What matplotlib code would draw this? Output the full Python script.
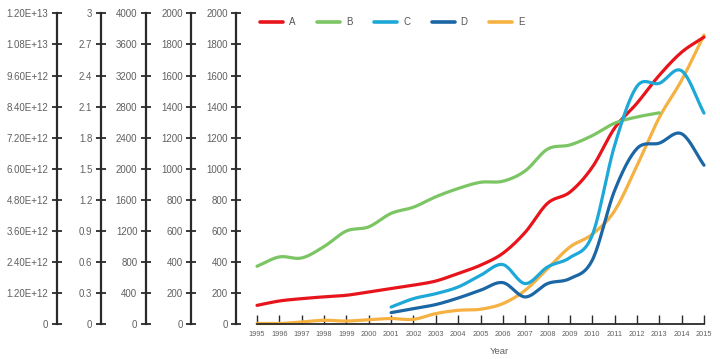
import numpy as np
import matplotlib
matplotlib.use("Agg")
import matplotlib.pyplot as plt

# ---------------- data ----------------
years = list(range(1995, 2016))
years_b = list(range(1995, 2014))
years_cd = list(range(2001, 2016))

# A on 0..1.2E13 axis (trillions)
A = [0.73, 0.90, 0.99, 1.06, 1.12, 1.25, 1.38, 1.51, 1.67, 1.96, 2.28,
     2.74, 3.55, 4.67, 5.10, 6.06, 7.57, 8.53, 9.61, 10.50, 11.08]
# B on 0..3 axis
B = [0.56, 0.65, 0.64, 0.75, 0.90, 0.94, 1.07, 1.13, 1.23, 1.31, 1.37,
     1.38, 1.48, 1.69, 1.73, 1.82, 1.94, 2.00, 2.04]
# C on 0..4000 axis
C = [222, 330, 394, 480, 630, 768, 524, 738, 858, 1146, 2300, 3060, 3100, 3260, 2716]
# D on 0..2000 axis
D = [75, 101, 127, 169, 219, 268, 176, 262, 294, 412, 860, 1130, 1165, 1225, 1023]
# E on 0..2000 axis (main)
E = [5, 5, 15, 26, 21, 30, 37, 32, 69, 90, 97, 133, 219, 358, 497, 579,
     730, 1020, 1330, 1570, 1860]

names = ["A", "B", "C", "D", "E"]
colors = ["#e8141b", "#7cc564", "#1ea8d8", "#1b66a5", "#f5b142"]

ticks_A = [i * 1.2e12 for i in range(11)]
labels_A = ["0"] + ["%.2fE+%02d" % (v / 10 ** int(np.floor(np.log10(v))), int(np.floor(np.log10(v)))) for v in ticks_A[1:]]
ticks_B = [round(i * 0.3, 1) for i in range(11)]
labels_B = ["0"] + [("%g" % v) for v in ticks_B[1:]]
ticks_C = [i * 400 for i in range(11)]
ticks_D = [i * 200 for i in range(11)]


def smooth(x, y, n=20):
    x = np.asarray(x, float)
    y = np.asarray(y, float)
    px = np.concatenate([[2 * x[0] - x[1]], x, [2 * x[-1] - x[-2]]])
    py = np.concatenate([[2 * y[0] - y[1]], y, [2 * y[-1] - y[-2]]])
    xs, ys = [], []
    t = np.linspace(0, 1, n, endpoint=False)
    for i in range(1, len(px) - 2):
        p0, p1, p2, p3 = py[i - 1], py[i], py[i + 1], py[i + 2]
        q0, q1, q2, q3 = px[i - 1], px[i], px[i + 1], px[i + 2]
        for arr, (a0, a1, a2, a3) in ((ys, (p0, p1, p2, p3)), (xs, (q0, q1, q2, q3))):
            arr.extend(0.5 * ((2 * a1) + (-a0 + a2) * t + (2 * a0 - 5 * a1 + 4 * a2 - a3) * t ** 2
                              + (-a0 + 3 * a1 - 3 * a2 + a3) * t ** 3))
    xs.append(x[-1])
    ys.append(y[-1])
    return np.array(xs), np.array(ys)


plt.rcParams['font.family'] = ['Liberation Sans', 'DejaVu Sans']

fig = plt.figure(figsize=(7.2, 3.59), dpi=100)
W, H = 720.0, 359.0
left_px, right_px, bottom_px, top_px = 257, 704, 324.3, 13.3
rect = [left_px / W, 1 - bottom_px / H, (right_px - left_px) / W, (bottom_px - top_px) / H]

spine_col = "#2a2a2a"
lab_col = "#606060"

ax = fig.add_axes(rect)
ax.set_xlim(1995, 2015)
ax.set_ylim(0, 2000)
for s in ["top", "right"]:
    ax.spines[s].set_visible(False)

# y-axis definitions: (ticks, labels, ymax, spine pixel x)
axis_defs = [
    (ticks_A, labels_A, 1.2e13, 56.7),
    (ticks_B, labels_B, 3.0, 100.7),
    (ticks_C, [str(v) for v in ticks_C], 4000, 145.7),
    (ticks_D, [str(v) for v in ticks_D], 2000, 191.0),
]

axes = []
for tk, lb, ymax, sx in axis_defs:
    a = fig.add_axes(rect, sharex=ax)
    a.set_facecolor("none")
    a.set_ylim(0, ymax)
    for s in ["top", "right", "bottom"]:
        a.spines[s].set_visible(False)
    a.spines["left"].set_position(("outward", (left_px - sx) * 0.72))
    a.tick_params(axis="x", which="both", bottom=False, labelbottom=False)
    a.set_yticks(tk)
    a.set_yticklabels(lb)
    axes.append(a)

axes.append(ax)
ax.spines["left"].set_position(("outward", (left_px - 236.0) * 0.72))
ax.set_yticks(ticks_D)
ax.set_yticklabels([str(v) for v in ticks_D])

for a in axes:
    a.spines["left"].set_color(spine_col)
    a.spines["left"].set_linewidth(1.6)
    a.spines["left"].set_bounds(0, a.get_ylim()[1])
    a.tick_params(axis="y", direction="inout", length=7, width=1.3, color=spine_col,
                  labelsize=7, labelcolor=lab_col, pad=2.5)

ax.spines["bottom"].set_color(spine_col)
ax.spines["bottom"].set_linewidth(1.3)
ax.set_xticks(years)
ax.set_xticklabels([str(y) for y in years])
ax.tick_params(axis="x", direction="in", length=6.5, width=1.0, color=spine_col,
               labelsize=5.3, labelcolor=lab_col, pad=4.5)
ax.set_xlabel("Year", fontsize=6.8, color=lab_col)
ax.xaxis.set_label_coords((499 - left_px) / (right_px - left_px), -0.072)

series = [(axes[0], years, [v * 1e12 for v in A]),
          (axes[1], years_b, B),
          (axes[2], years_cd, C),
          (axes[3], years_cd, D),
          (ax, years, E)]

handles = []
for (a, xs, ys), nm, col in zip(series, names, colors):
    sx_, sy_ = smooth(xs, ys)
    ln, = a.plot(sx_, sy_, color=col, lw=2.3, solid_capstyle="round", clip_on=False, label=nm)
    handles.append(ln)

leg = fig.legend(handles, names, loc="center left", bbox_to_anchor=(260 / W, 1 - 22.3 / H),
                 ncol=5, frameon=False, fontsize=7, handlelength=2.4, handletextpad=0.6,
                 columnspacing=2.2, borderaxespad=0, borderpad=0)
for lh in leg.get_lines():
    lh.set_linewidth(2.6)
for t in leg.get_texts():
    t.set_color("#555555")

fig.savefig("out.png", dpi=100)
